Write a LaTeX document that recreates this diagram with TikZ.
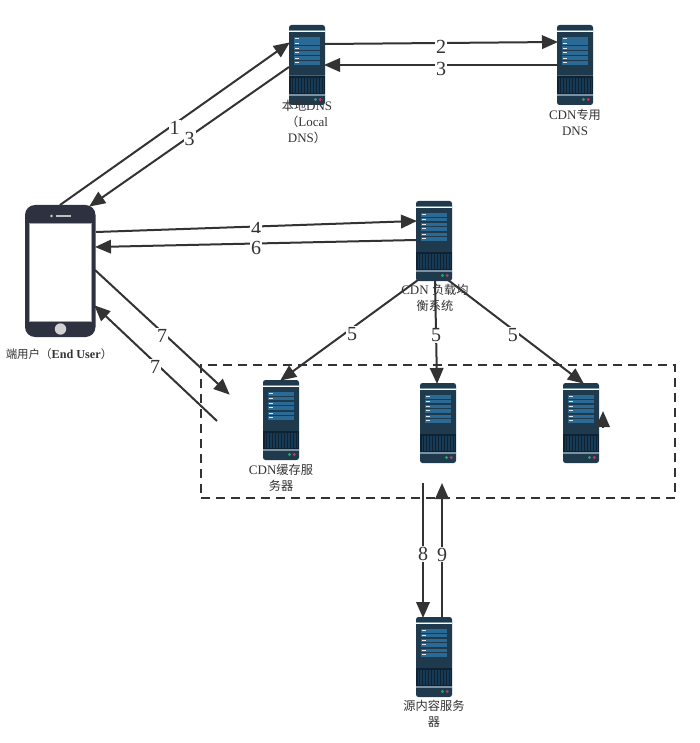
\documentclass[tikz,border=0pt]{standalone}
\usepackage{fontspec}
\setmainfont{Liberation Serif}
\newfontfamily\cjk{Noto Sans CJK SC}[Scale=0.94]
\usetikzlibrary{arrows.meta}
\definecolor{ink}{HTML}{333333}
\definecolor{srvbody}{HTML}{1F3A4D}
\definecolor{srvdark}{HTML}{0E2233}
\definecolor{srvrow}{HTML}{2A6A94}
\definecolor{srvband}{HTML}{7C929F}
\definecolor{ledgreen}{HTML}{2E9E6B}
\definecolor{ledred}{HTML}{C2365F}
\definecolor{phonebody}{HTML}{2E3240}
\tikzset{
  link/.style={draw=ink,line width=2pt,-{Triangle[length=16pt,width=13.5pt]},shorten >=-1pt},
  linklabel/.style={fill=white,inner sep=1pt,yshift=-4pt,font=\fontsize{20}{20}\selectfont,text=ink},
  caption/.style={align=center,text=ink,font=\fontsize{13}{16}\selectfont,inner sep=0pt},
  srvbox/.style={minimum width=36pt,minimum height=80pt,inner sep=0pt,outer sep=0pt}
}
% One rack server, 36 x 80, drawn about a named node
\newcommand{\rackserver}[3]{%
  \node[srvbox] (#1) at (#2+18,#3+40) {};
  \begin{scope}[shift={(#2,#3)}]
    \fill[srvbody,rounded corners=2.5pt] (0,0) rectangle (36,80);
    \fill[srvband] (0,5) rectangle (36,6);
    \draw[white,line width=.8pt] (0,6.5) -- (36,6.5);
    \foreach \y in {12,16.5,21.5,26,31.5,36}{
      \fill[srvrow] (5,\y) rectangle (31,\y+3.6);
      \fill[white!85!srvrow] (5.5,\y+1.2) rectangle (10,\y+2.4);
    }
    \fill[srvrow] (0,50.5) rectangle (36,51.3);
    \fill[srvdark] (0,51.3) rectangle (36,69);
    \foreach \x in {1.5,3,...,34}{
      \fill[srvrow!35!srvdark] (\x+.8,53) rectangle (\x+1.2,68);
    }
    \fill[srvband] (0,69) rectangle (36,71);
    \fill[ledgreen] (26.5,74.5) circle (1.6);
    \fill[ledred] (31.3,74.5) circle (1.6);
  \end{scope}
}
\begin{document}
\begin{tikzpicture}[x=1pt,y=-1pt]
\useasboundingbox (0,0) rectangle (700,743);
\fill[white] (0,0) rectangle (700,743);

% Servers
\rackserver{localdns}{289}{25}
\rackserver{cdndns}{557}{25}
\rackserver{balancer}{416}{201}
\rackserver{cacheA}{263}{380}
\rackserver{cacheB}{420}{383}
\rackserver{cacheC}{563}{383}
\rackserver{origin}{416}{617}

% Handset
\node[minimum width=70pt,minimum height=132pt,inner sep=0pt,outer sep=0pt] (phone) at (60,271) {};
\fill[phonebody,rounded corners=10pt] (25,205) rectangle (95.5,337);
\fill[white,draw=gray!70,line width=.8pt] (29.5,223) rectangle (91.5,321);
\fill[gray!35] (60.5,329) circle (5.7);
\fill[gray!35] (51.5,216) circle (1.4);
\fill[gray!50] (56,215.2) rectangle (71,216.6);

% Cache group outline
\node[draw=ink,dashed,dash pattern=on 9pt off 6pt,line width=2pt,minimum width=474pt,minimum height=133pt,inner sep=0pt] (group) at (438,431.5) {};

% Captions
\node[caption] (capLocal) at (307,122) {{\cjk 本地}DNS\\{\cjk （}Local\\DNS{\cjk ）}};
\node[caption] (capCdn) at (575,122) {CDN{\cjk 专用}\\DNS};
\node[caption] (capLb) at (435,298) {CDN {\cjk 负载均}\\{\cjk 衡系统}};
\node[caption] (capCache) at (281,477.5) {CDN{\cjk 缓存服}\\{\cjk 务器}};
\node[caption] (capOrigin) at (434,714) {{\cjk 源内容服务}\\{\cjk 器}};
\node[caption,font=\fontsize{12.2}{14}\selectfont] (capUser) at (59,354) {{\cjk 端用户（}\textbf{End User}{\cjk ）}};

% Free connector ends
\coordinate (p1) at (60,205);
\coordinate (l1) at (289,43);
\coordinate (l2) at (289,67);
\coordinate (p2) at (90,206);
\coordinate (l3) at (325,44);
\coordinate (c1) at (557,42);
\coordinate (c2) at (557,65);
\coordinate (l4) at (325,65);
\coordinate (p3) at (96,232);
\coordinate (b1) at (416,221);
\coordinate (b2) at (416,240);
\coordinate (p4) at (96,247);
\coordinate (p5) at (95,270);
\coordinate (g1) at (229,394);
\coordinate (g2) at (217,421);
\coordinate (p6) at (95,306);
\coordinate (b3) at (418,280);
\coordinate (s1) at (281,380);
\coordinate (b4) at (435,280);
\coordinate (s2) at (437,383);
\coordinate (b5) at (448,280);
\coordinate (s3) at (583,383);
\coordinate (s4) at (423,483);
\coordinate (o1) at (423,617);
\coordinate (o2) at (442,617);
\coordinate (s5) at (442,484);
\coordinate (t1) at (603,428);
\coordinate (t2) at (603,412);

% Connectors with their step numbers
\draw[link] (p1) -- node[linklabel,pos=.5] {1} (l1);
\draw[link] (l2) -- node[linklabel,pos=.5,yshift=2pt] {3} (p2);
\draw[link] (l3) -- node[linklabel,pos=.5] {2} (c1);
\draw[link] (c2) -- node[linklabel,pos=.5] {3} (l4);
\draw[link] (p3) -- node[linklabel,pos=.5,yshift=1.5pt] {4} (b1);
% the tall label box of step 6 covers the foot of the 4 above it
\draw[link] (b2) -- node[linklabel,pos=.5,yshift=-.5pt,minimum height=30pt] {6} (p4);
\draw[link] (p5) -- node[linklabel,pos=.5] {7} (g1);
\draw[link] (g2) -- node[linklabel,pos=.5,yshift=1pt,xshift=-1pt] {7} (p6);
\draw[link] (b3) -- node[linklabel,pos=.48,yshift=-2pt] {5} (s1);
\draw[link] (b4) -- node[linklabel,pos=.5] {5} (s2);
\draw[link] (b5) -- node[linklabel,pos=.48,yshift=-1.5pt] {5} (s3);
\draw[link] (s4) -- node[linklabel,pos=.5] {8} (o1);
\draw[link] (o2) -- node[linklabel,pos=.5] {9} (s5);
\draw[link] (t1) -- (t2);
\end{tikzpicture}
\end{document}
